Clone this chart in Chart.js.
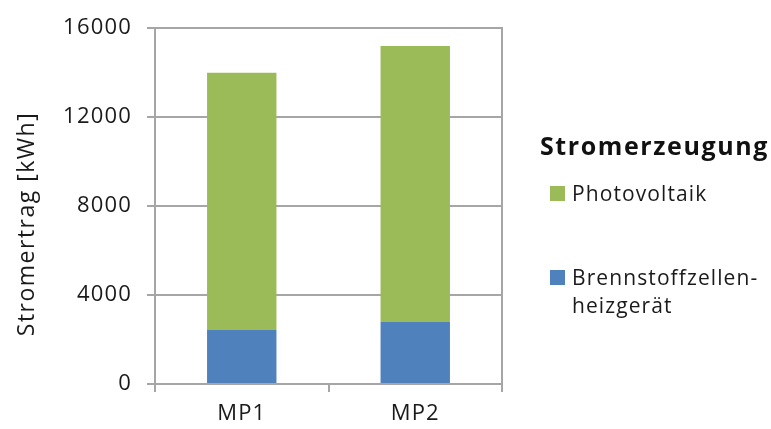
<!DOCTYPE html>
<html>
<head>
<meta charset="utf-8">
<script src="https://cdn.jsdelivr.net/npm/chart.js@4/dist/chart.umd.min.js"></script>
<style>
  html, body { margin: 0; padding: 0; background: #fff; }
  #wrap { width: 771px; height: 429px; position: relative; }
</style>
</head>
<body>
<div id="wrap"><canvas id="c" width="771" height="429"></canvas></div>
<script>
// Stromertrag je Messpunkt, gestapelt nach Erzeuger (kWh)
const categories = ['MP1', 'MP2'];
const brennstoffzelle = [2430, 2790];
const photovoltaik = [11570, 12410];
const yTicks = [0, 4000, 8000, 12000, 16000];

const legendTitle = 'Stromerzeugung';
const legendItems = [
  { lines: ['Photovoltaik'], color: '#9BBB59' },
  { lines: ['Brennstoffzellen-', 'heizgerät'], color: '#4F81BD' }
];
const yTitle = 'Stromertrag [kWh]';

const FONT = '"Open Sans", "Noto Sans", sans-serif';
const GRID = '#a6a6a6';

// etwas breitere Laufweite für die Achsenbeschriftung
const spacing = {
  id: 'spacing',
  beforeDraw(chart) { chart.ctx.letterSpacing = '1.2px'; }
};

// Legende und Achsentitel werden selbst gezeichnet
const extras = {
  id: 'extras',
  afterDraw(chart) {
    const ctx = chart.ctx;
    ctx.save();
    ctx.letterSpacing = '1.5px';
    ctx.fillStyle = '#1a1a1a';
    ctx.font = '23px ' + FONT;
    ctx.textAlign = 'center';
    ctx.textBaseline = 'middle';
    ctx.translate(27, 224);
    ctx.rotate(-Math.PI / 2);
    ctx.fillText(yTitle, 0, 0);
    ctx.restore();

    ctx.save();
    ctx.fillStyle = '#111';
    ctx.letterSpacing = '1.6px';
    ctx.font = 'bold 25px ' + FONT;
    ctx.textAlign = 'left';
    ctx.textBaseline = 'alphabetic';
    ctx.fillText(legendTitle, 540, 155);

    ctx.letterSpacing = '1.1px';
    ctx.font = '21px ' + FONT;
    const starts = [201, 285];
    legendItems.forEach((it, i) => {
      const base = starts[i];
      ctx.fillStyle = it.color;
      ctx.fillRect(550, base - 15, 15, 15);
      ctx.fillStyle = '#1a1a1a';
      it.lines.forEach((ln, j) => ctx.fillText(ln, 572, base + j * 28));
    });
    ctx.restore();
  }
};

new Chart(document.getElementById('c'), {
  type: 'bar',
  data: {
    labels: categories,
    datasets: [
      { label: 'Brennstoffzellenheizgerät', data: brennstoffzelle, backgroundColor: '#4F81BD', borderWidth: 0 },
      { label: 'Photovoltaik', data: photovoltaik, backgroundColor: '#9BBB59', borderWidth: 0 }
    ]
  },
  options: {
    responsive: false,
    animation: false,
    devicePixelRatio: 1,
    layout: { padding: { top: 27, right: 269, left: 0, bottom: 0 } },
    datasets: { bar: { barPercentage: 0.4, categoryPercentage: 1.0 } },
    plugins: { legend: { display: false }, tooltip: { enabled: false } },
    scales: {
      x: {
        stacked: true,
        afterFit(s) { s.height = 45; },
        grid: { display: true, offset: true, drawOnChartArea: false, color: GRID, lineWidth: 2, tickLength: 8 },
        border: { color: GRID, width: 2 },
        ticks: { color: '#1a1a1a', font: { family: FONT, size: 22 }, padding: 9 }
      },
      y: {
        stacked: true,
        min: 0,
        max: 16000,
        afterFit(s) { s.width = 155; },
        afterBuildTicks(s) { s.ticks = yTicks.map(v => ({ value: v })); },
        grid: { color: GRID, lineWidth: 2, tickLength: 8 },
        border: { color: GRID, width: 2 },
        ticks: { color: '#1a1a1a', font: { family: FONT, size: 22 }, padding: 15, callback: v => String(v) }
      },
      yRight: {
        position: 'right',
        display: true,
        min: 0,
        max: 16000,
        afterFit(s) { s.width = 0; },
        grid: { display: false },
        border: { color: GRID, width: 2 },
        ticks: { display: false }
      }
    }
  },
  plugins: [spacing, extras]
});
</script>
</body>
</html>
